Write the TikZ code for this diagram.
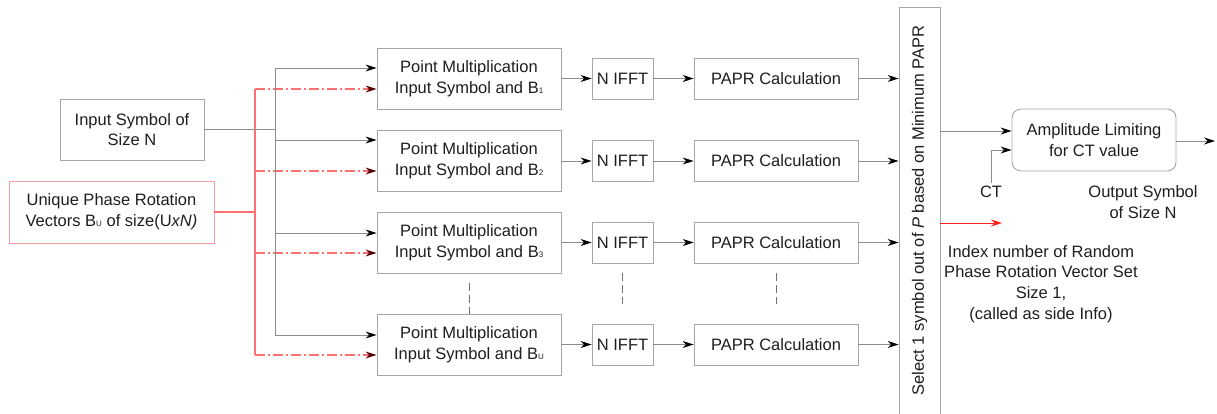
\documentclass[tikz,border=0pt]{standalone}
\usepackage{fontspec}
\setmainfont{Liberation Sans}
\usetikzlibrary{arrows.meta}
\definecolor{boxgray}{HTML}{A6A6A6}
\definecolor{linegray}{HTML}{8C8C8C}
\definecolor{txt}{HTML}{1E1E1E}
\definecolor{pinkline}{HTML}{FF7070}
\definecolor{pinkbox}{HTML}{F7A0A0}
\definecolor{sidered}{HTML}{FF2020}
\newcommand{\sub}[1]{\raisebox{-0.3pt}{\fontsize{8}{8}\selectfont #1}}
\tikzset{
  every node/.style={font=\fontsize{16.5}{20.7}\selectfont, text=txt},
  blk/.style={draw=boxgray, line width=0.9pt, inner sep=0pt, align=center},
  wire/.style={draw=linegray, line width=0.8pt},
  arr/.style={wire, -{Stealth[length=11pt,width=7pt,inset=3.5pt,color=black]}},
  redbus/.style={draw=pinkline, line width=1.2pt},
  redarr/.style={draw=pinkline, line width=1.2pt, dash pattern=on 10pt off 3pt on 2pt off 3pt,
    -{Stealth[length=11pt,width=7pt,inset=3.5pt,color=black!65!red]}},
  dots/.style={draw=linegray!80!black, line width=0.8pt, dash pattern=on 8pt off 4pt},
}
\begin{document}
\begin{tikzpicture}[x=1pt,y=-1pt]
\useasboundingbox (0,0) rectangle (1217,414);

% sources
\node[blk, minimum width=144pt, minimum height=61pt] (in) at (132,129.5) {Input Symbol of\\Size N};
\node[blk, draw=pinkbox, minimum width=205pt, minimum height=62pt] (uq) at (111.5,212)
  {Unique Phase Rotation\\Vectors B\sub{U} of size(U\textit{xN)}};

% branch rows
\foreach \i/\y/\s in {1/78.5/1, 2/161/2, 3/242.5/3, 4/344.5/U}{
  \node[blk, minimum width=184pt, minimum height=61pt] (pm\i) at (469,\y)
    {Point Multiplication\\Input Symbol and B\sub{\s}};
  \node[blk, minimum width=61pt, minimum height=41pt] (ift\i) at (622.5,\y) {N IFFT};
  \node[blk, minimum width=164pt, minimum height=41pt] (pa\i) at (776,\y) {PAPR Calculation};
}

% selector
\node[blk, minimum width=41pt, minimum height=411pt] (sel) at (919.5,212.5) {};
\node[rotate=90] (seltxt) at (919.5,210.5) {Select 1 symbol out of \textit{P} based on Minimum PAPR};

% limiter and labels
\node[blk, rounded corners=9pt, minimum width=164pt, minimum height=62pt] (amp) at (1094,140)
  {Amplitude Limiting\\for CT value};
\node (ct) at (991,192) {CT};
\node[align=center] (outtxt) at (1143,202) {Output Symbol\\of Size N};
\node[align=center] (idx) at (1041,284) {Index number of Random\\Phase Rotation Vector Set\\Size 1,\\(called as side Info)};
\coordinate (outend) at (1215,141);
\coordinate (sideend) at (1002,223);

% phase vector fan-out
\coordinate (rt) at (255,89);
\coordinate (rb) at (255,355);
\draw[redbus] (uq.east) -- (uq.east -| rt);
\draw[redbus] (rt) -- (rb);
\foreach \i/\y in {1/89, 2/171, 3/253, 4/355}{
  \draw[redarr] (255,\y) -- (pm\i.west |- 0,\y);
}

% input symbol fan-out
\coordinate (bt) at (275,68);
\coordinate (bb) at (275,335);
\draw[wire] (in.east) -- (in.east -| bt);
\draw[wire] (bt) -- (bb);
\draw[arr] (bt) -- (bt -| pm1.west);
\draw[arr] (275,140) -- (pm2.west |- 0,140);
\draw[arr] (275,233) -- (pm3.west |- 0,233);
\draw[arr] (bb) -- (bb -| pm4.west);

% row chains
\foreach \i in {1,...,4}{
  \draw[arr] (pm\i.east) -- (ift\i.west);
  \draw[arr] (ift\i.east) -- (pa\i.west);
  \draw[arr] (pa\i.east) -- (pa\i.east -| sel.west);
}

% ellipsis marks
\draw[dots] (469,283) -- (pm4.north);
\draw[dots] (622,273) -- (622,304);
\draw[dots] (776,273) -- (776,304);

% output side
\draw[arr] (sel.east |- 0,131) -- (amp.west |- 0,131);
\draw[arr] (ct.north) -- (ct.north |- 0,150) -- (amp.west |- 0,150);
\draw[arr] (amp.east |- outend) -- (outend);
\draw[draw=sidered, line width=0.8pt, -{Stealth[length=11pt,width=7pt,inset=3.5pt,color=sidered]}]
  (sel.east |- sideend) -- (sideend);
\end{tikzpicture}
\end{document}
